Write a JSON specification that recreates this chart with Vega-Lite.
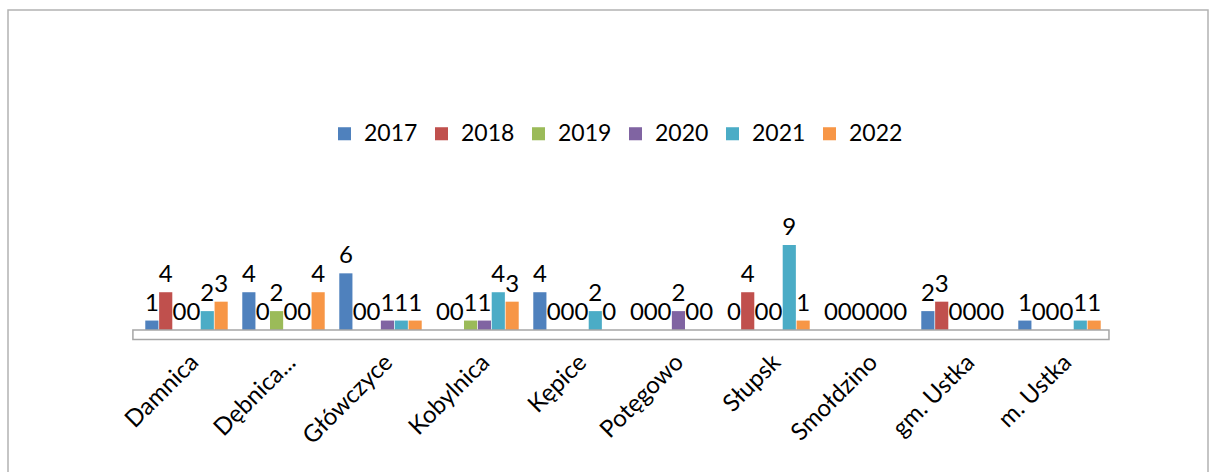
{
  "$schema": "https://vega.github.io/schema/vega-lite/v6.json",
  "width": 1200,
  "height": 470,
  "padding": {"left": 8, "top": 10, "right": 4, "bottom": 0},
  "autosize": {"type": "none"},
  "background": "white",
  "config": {"view": {"stroke": "#b3b3b3", "strokeWidth": 1.5}, "font": "Lato"},
  "data": {"values": [
    {"gmina": "Damnica", "rok": "2017", "value": 1},
    {"gmina": "Damnica", "rok": "2018", "value": 4},
    {"gmina": "Damnica", "rok": "2019", "value": 0},
    {"gmina": "Damnica", "rok": "2020", "value": 0},
    {"gmina": "Damnica", "rok": "2021", "value": 2},
    {"gmina": "Damnica", "rok": "2022", "value": 3},
    {"gmina": "Dębnica...", "rok": "2017", "value": 4},
    {"gmina": "Dębnica...", "rok": "2018", "value": 0},
    {"gmina": "Dębnica...", "rok": "2019", "value": 2},
    {"gmina": "Dębnica...", "rok": "2020", "value": 0},
    {"gmina": "Dębnica...", "rok": "2021", "value": 0},
    {"gmina": "Dębnica...", "rok": "2022", "value": 4},
    {"gmina": "Główczyce", "rok": "2017", "value": 6},
    {"gmina": "Główczyce", "rok": "2018", "value": 0},
    {"gmina": "Główczyce", "rok": "2019", "value": 0},
    {"gmina": "Główczyce", "rok": "2020", "value": 1},
    {"gmina": "Główczyce", "rok": "2021", "value": 1},
    {"gmina": "Główczyce", "rok": "2022", "value": 1},
    {"gmina": "Kobylnica", "rok": "2017", "value": 0},
    {"gmina": "Kobylnica", "rok": "2018", "value": 0},
    {"gmina": "Kobylnica", "rok": "2019", "value": 1},
    {"gmina": "Kobylnica", "rok": "2020", "value": 1},
    {"gmina": "Kobylnica", "rok": "2021", "value": 4},
    {"gmina": "Kobylnica", "rok": "2022", "value": 3},
    {"gmina": "Kępice", "rok": "2017", "value": 4},
    {"gmina": "Kępice", "rok": "2018", "value": 0},
    {"gmina": "Kępice", "rok": "2019", "value": 0},
    {"gmina": "Kępice", "rok": "2020", "value": 0},
    {"gmina": "Kępice", "rok": "2021", "value": 2},
    {"gmina": "Kępice", "rok": "2022", "value": 0},
    {"gmina": "Potęgowo", "rok": "2017", "value": 0},
    {"gmina": "Potęgowo", "rok": "2018", "value": 0},
    {"gmina": "Potęgowo", "rok": "2019", "value": 0},
    {"gmina": "Potęgowo", "rok": "2020", "value": 2},
    {"gmina": "Potęgowo", "rok": "2021", "value": 0},
    {"gmina": "Potęgowo", "rok": "2022", "value": 0},
    {"gmina": "Słupsk", "rok": "2017", "value": 0},
    {"gmina": "Słupsk", "rok": "2018", "value": 4},
    {"gmina": "Słupsk", "rok": "2019", "value": 0},
    {"gmina": "Słupsk", "rok": "2020", "value": 0},
    {"gmina": "Słupsk", "rok": "2021", "value": 9},
    {"gmina": "Słupsk", "rok": "2022", "value": 1},
    {"gmina": "Smołdzino", "rok": "2017", "value": 0},
    {"gmina": "Smołdzino", "rok": "2018", "value": 0},
    {"gmina": "Smołdzino", "rok": "2019", "value": 0},
    {"gmina": "Smołdzino", "rok": "2020", "value": 0},
    {"gmina": "Smołdzino", "rok": "2021", "value": 0},
    {"gmina": "Smołdzino", "rok": "2022", "value": 0},
    {"gmina": "gm. Ustka", "rok": "2017", "value": 2},
    {"gmina": "gm. Ustka", "rok": "2018", "value": 3},
    {"gmina": "gm. Ustka", "rok": "2019", "value": 0},
    {"gmina": "gm. Ustka", "rok": "2020", "value": 0},
    {"gmina": "gm. Ustka", "rok": "2021", "value": 0},
    {"gmina": "gm. Ustka", "rok": "2022", "value": 0},
    {"gmina": "m. Ustka", "rok": "2017", "value": 1},
    {"gmina": "m. Ustka", "rok": "2018", "value": 0},
    {"gmina": "m. Ustka", "rok": "2019", "value": 0},
    {"gmina": "m. Ustka", "rok": "2020", "value": 0},
    {"gmina": "m. Ustka", "rok": "2021", "value": 1},
    {"gmina": "m. Ustka", "rok": "2022", "value": 1}
  ]},
  "layer": [
    {
      "mark": {"type": "bar"},
      "encoding": {
        "x": {
          "field": "gmina", "type": "nominal",
          "scale": {
            "domain": ["Damnica", "Dębnica...", "Główczyce", "Kobylnica", "Kępice", "Potęgowo", "Słupsk", "Smołdzino", "gm. Ustka", "m. Ustka"],
            "range": [130, 1100],
            "paddingInner": 0.15, "paddingOuter": 0.075
          },
          "axis": {
            "orient": "bottom", "offset": -150, "domain": false, "ticks": false,
            "labelAngle": -45, "labelFontSize": 24, "labelColor": "black",
            "labelPadding": 20, "labelFont": "Lato", "title": null
          }
        },
        "xOffset": {"field": "rok", "type": "nominal", "scale": {"paddingInner": 0.05}},
        "y": {
          "field": "value", "type": "quantitative",
          "scale": {"domain": [-15.88, 33.88], "nice": false, "zero": false},
          "axis": null
        },
        "y2": {"datum": 0},
        "color": {
          "field": "rok", "type": "nominal",
          "scale": {"domain": ["2017", "2018", "2019", "2020", "2021", "2022"],
                    "range": ["#4F81BD", "#C0504D", "#9BBB59", "#8064A2", "#4BACC6", "#F79646"]},
          "legend": {
            "orient": "none", "legendX": 325, "legendY": 112, "direction": "horizontal",
            "title": null, "symbolType": "square", "symbolSize": 170, "symbolStrokeWidth": 0,
            "labelFontSize": 23, "labelFont": "Lato", "labelColor": "black",
            "labelOffset": 8, "columnPadding": 12
          }
        }
      }
    },
    {
      "data": {"values": [{"a": 1}]},
      "mark": {"type": "rect", "fill": "white", "stroke": "#a6a6a6", "strokeWidth": 1.5},
      "encoding": {
        "x": {"datum": "Damnica", "type": "nominal", "bandPosition": -0.15},
        "x2": {"datum": "m. Ustka", "bandPosition": 1.1},
        "y": {"datum": 0, "type": "quantitative"},
        "y2": {"datum": -1}
      }
    },
    {
      "mark": {"type": "text", "baseline": "bottom", "dy": -5, "fontSize": 24, "font": "Lato", "color": "black"},
      "encoding": {
        "x": {"field": "gmina", "type": "nominal"},
        "xOffset": {"field": "rok", "type": "nominal"},
        "y": {"field": "value", "type": "quantitative"},
        "text": {"field": "value", "type": "quantitative"}
      }
    }
  ]
}
